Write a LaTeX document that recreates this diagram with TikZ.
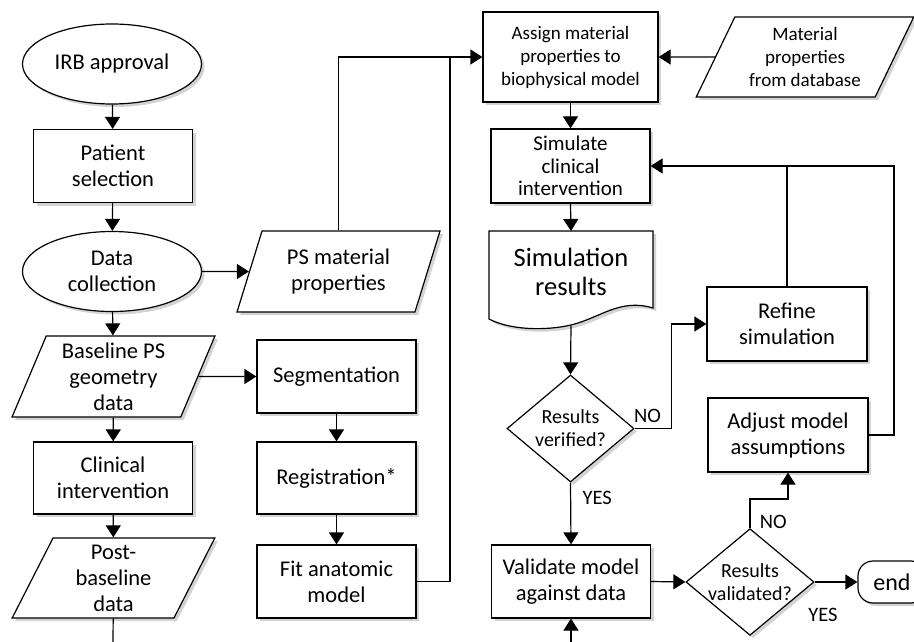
\documentclass[tikz,border=0pt]{standalone}
\usepackage{fontspec}
\setmainfont{Carlito}
\usetikzlibrary{shapes.geometric,shadows,arrows.meta}
\tikzset{
  >={Triangle[length=12pt,width=15pt]},
}
\tikzstyle{every node}=[font=\fontsize{22.5}{26}\selectfont]
\tikzstyle{boxshadow}=[drop shadow={shadow xshift=3pt,shadow yshift=-3pt,opacity=0.35}]
\tikzstyle{procbox}=[draw,line width=1.2pt,fill=white,rectangle,minimum width=159pt,minimum height=73pt,inner sep=0pt,align=center,boxshadow]
\tikzstyle{startstop}=[draw,line width=1.2pt,fill=white,ellipse,minimum width=179pt,minimum height=80pt,inner sep=0pt,align=center,boxshadow]
\tikzstyle{iobox}=[draw,line width=1.2pt,fill=white,trapezium,trapezium left angle=69,trapezium right angle=111,trapezium stretches=true,minimum width=203pt,minimum height=81pt,inner sep=1pt,align=center,boxshadow]
\tikzstyle{decbox}=[draw,line width=1.2pt,fill=white,diamond,aspect=1.2,minimum width=127pt,minimum height=107pt,inner sep=0pt,align=center,font=\fontsize{20}{23}\selectfont,boxshadow]
\tikzstyle{arrowline}=[line width=1.2pt,->]
\tikzstyle{plainline}=[line width=1.2pt]
\tikzstyle{answer}=[font=\fontsize{20.5}{24}\selectfont]

\begin{document}
\begin{tikzpicture}[x=1pt,y=-1pt]
    \useasboundingbox (0,0) rectangle (914,642);
    \clip (0,0) rectangle (914,642);
    % left column
    \node[startstop] (irb) at (112,64) {IRB approval};
    \node[procbox] (patient) at (113,166) {Patient\\selection};
    \node[startstop] (datacoll) at (112,271.5) {Data\\collection};
    \node[iobox] (baseline) at (113.5,376.5) {Baseline PS\\geometry\\data};
    \node[procbox,minimum height=72pt] (clinical) at (113,478) {Clinical\\intervention};
    \node[iobox,minimum height=80pt] (postbase) at (113.5,578) {Post-\\baseline\\data};
    \coordinate (leftout) at (113,642);
    % second column
    \node[iobox,trapezium left angle=70,trapezium right angle=110] (psmat) at (338.5,271.5) {PS material\\properties};
    \node[procbox] (seg) at (336.5,376.5) {Segmentation};
    \node[procbox,minimum height=72pt] (reg) at (336.5,478) {Registration*};
    \node[procbox] (fit) at (336.5,581.5) {Fit anatomic\\model};
    \coordinate (join) at (450,57);
    % third column
    \node[procbox,minimum width=175pt,minimum height=90pt,font=\fontsize{19}{23}\selectfont] (assign) at (570.5,57) {Assign material\\properties to\\biophysical model};
    \node[iobox,trapezium left angle=63,trapezium right angle=117,minimum width=218pt,minimum height=80pt,font=\fontsize{19}{23}\selectfont] (matdb) at (805,57) {Material\\properties\\from database};
    \node[procbox,minimum height=74pt,font=\fontsize{21}{22.5}\selectfont] (simulate) at (570.5,166) {Simulate\\clinical\\intervention};
    \draw[plainline,fill=white,boxshadow] (489,231) -- (653,231) -- (653,308)
        .. controls (620,298) and (600,318) .. (571,325)
        .. controls (545,331) and (510,330) .. (489,319) -- cycle;
    \node[align=center,inner sep=0pt,font=\fontsize{26.5}{29}\selectfont] (simres) at (571,272) {Simulation\\results};
    \coordinate (docbot) at (571,326);
    \node[decbox] (verified) at (570.5,428.5) {Results\\verified?};
    \node[procbox] (validate) at (571,581.5) {Validate model\\against data};
    \coordinate (bottomin) at (571,642);
    % right column
    \node[procbox,minimum width=160pt,minimum height=74pt] (refine) at (787,324) {Refine\\simulation};
    \node[procbox,minimum width=160pt,minimum height=74pt] (adjust) at (788,435) {Adjust model\\assumptions};
    \node[decbox,minimum width=126pt,minimum height=106pt] (validated) at (750,582) {Results\\validated?};
    \node[draw,line width=1.2pt,fill=white,rounded corners=15pt,minimum width=68pt,minimum height=42pt,font=\fontsize{24}{26}\selectfont,boxshadow] (endnode) at (892,582) {end};
    \coordinate (loopjoin) at (894,166);

    % connectors
    \draw[arrowline] (irb) -- (patient);
    \draw[arrowline] (patient) -- (datacoll);
    \draw[arrowline] (datacoll) -- (baseline);
    \draw[arrowline] (baseline) -- (clinical);
    \draw[arrowline] (clinical) -- (postbase);
    \draw[plainline] (postbase) -- (leftout);
    \draw[arrowline] (datacoll.east) -- (psmat.west);
    \draw[arrowline] (baseline.east) -- (seg.west);
    \draw[arrowline] (seg) -- (reg);
    \draw[arrowline] (reg) -- (fit);
    \draw[arrowline] (psmat.north) |- (assign.west);
    \draw[plainline] (fit.east) -| (join);
    \draw[arrowline] (matdb.west) -- (assign.east);
    \draw[arrowline] (assign) -- (simulate);
    \draw[arrowline] (simulate.south) -- (571,231);
    \draw[arrowline] (docbot) -- (verified.north);
    \draw[arrowline] (verified.south) -- (validate.north)
        node[answer,pos=0.25,right=8pt] {YES};
    \draw[arrowline] (verified.east) -- ++(37,0) node[answer,pos=0.35,above=2pt] {NO}
        |- (refine.west);
    \draw[arrowline] (refine.north) |- (simulate.east);
    \draw[plainline] (adjust.east) -| (loopjoin) -- (refine.north |- loopjoin);
    \draw[arrowline] (validate.east) -- (validated.west);
    \draw[arrowline] (validated.north) -- ++(0,-29) node[answer,pos=0.2,right=6pt] {NO}
        -| (adjust.south);
    \draw[arrowline] (validated.east) -- (endnode.west);
    \node[answer] (yeslbl) at (823,615) {YES};
    \draw[arrowline] (bottomin) -- (validate.south);
\end{tikzpicture}
\end{document}
